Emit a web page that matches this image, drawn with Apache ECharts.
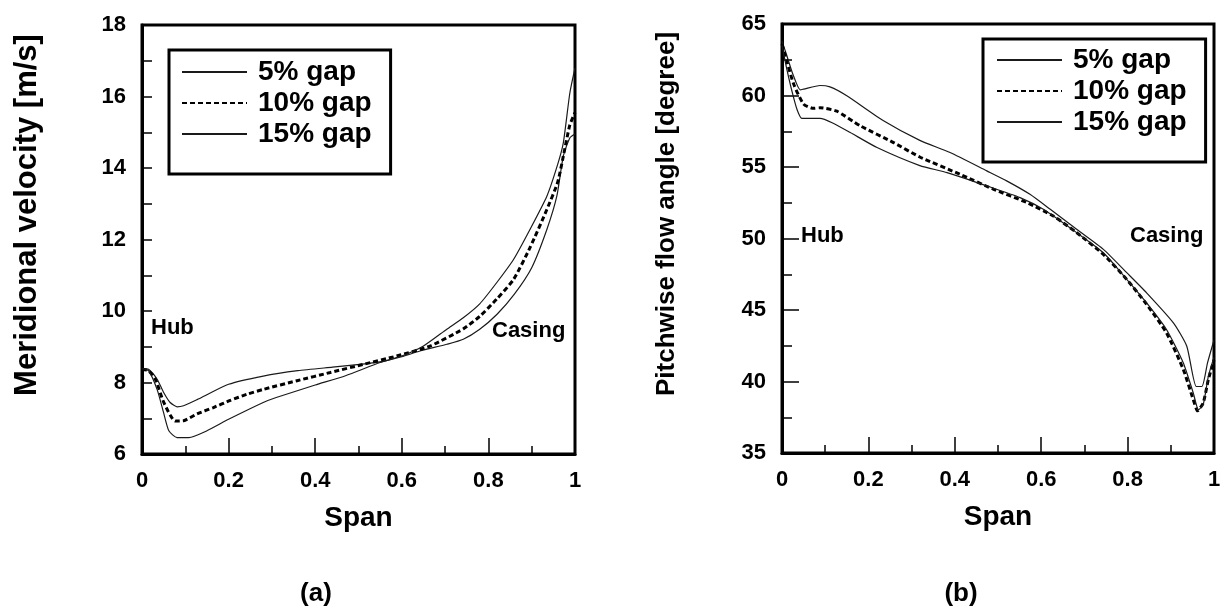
<!DOCTYPE html>
<html><head><meta charset="utf-8">
<script src="https://cdn.jsdelivr.net/npm/echarts@6/dist/echarts.min.js"></script>
<style>html,body{margin:0;padding:0;background:#fff}#c{width:1231px;height:615px}</style>
</head><body><div id="c"></div>
<script>
const FONT = '"Liberation Sans", Arial, Helvetica, sans-serif';
const seriesNames = ['5% gap', '10% gap', '15% gap'];

// (a) Meridional velocity [m/s] vs span
const velSpan5 = [0, 0.015, 0.035, 0.05, 0.065, 0.081, 0.096, 0.127, 0.2, 0.28, 0.36, 0.44, 0.52, 0.56, 0.6, 0.642, 0.704, 0.742, 0.78, 0.82, 0.86, 0.9, 0.935, 0.958, 0.973, 0.988, 1.0];
const vel5     = [8.39, 8.37, 8.09, 7.72, 7.44, 7.32, 7.35, 7.52, 7.95, 8.18, 8.33, 8.43, 8.53, 8.6, 8.72, 8.88, 9.07, 9.21, 9.49, 9.91, 10.47, 11.21, 12.28, 13.21, 14.33, 14.84, 14.95];
const velSpan10 = [0, 0.015, 0.031, 0.05, 0.077, 0.096, 0.127, 0.165, 0.204, 0.242, 0.281, 0.358, 0.435, 0.512, 0.588, 0.665, 0.742, 0.78, 0.819, 0.858, 0.896, 0.935, 0.96, 0.973, 0.988, 1.0];
const vel10     = [8.37, 8.33, 8.09, 7.45, 6.92, 6.93, 7.12, 7.3, 7.5, 7.67, 7.81, 8.05, 8.28, 8.51, 8.74, 9.02, 9.5, 9.85, 10.33, 10.88, 11.77, 12.84, 13.6, 14.33, 15.2, 15.55];
const velSpan15 = [0, 0.015, 0.035, 0.05, 0.062, 0.081, 0.108, 0.15, 0.2, 0.28, 0.31, 0.4, 0.47, 0.55, 0.6, 0.65, 0.704, 0.742, 0.78, 0.819, 0.858, 0.896, 0.935, 0.96, 0.973, 0.988, 1.0];
const vel15     = [8.39, 8.33, 7.8, 7.15, 6.65, 6.46, 6.46, 6.65, 6.97, 7.44, 7.58, 7.93, 8.19, 8.56, 8.74, 9.02, 9.49, 9.81, 10.2, 10.79, 11.44, 12.28, 13.21, 14.1, 14.7, 16.09, 16.8];

// (b) Pitchwise flow angle [degree] vs span
const angSpan5 = [0, 0.01, 0.025, 0.042, 0.05, 0.088, 0.111, 0.15, 0.235, 0.319, 0.389, 0.474, 0.52, 0.574, 0.621, 0.682, 0.744, 0.798, 0.844, 0.906, 0.937, 0.959, 0.972, 0.985, 1.0];
const ang5     = [63.8, 62.9, 61.5, 60.4, 60.45, 60.7, 60.6, 59.98, 58.23, 56.86, 56.01, 54.73, 54.03, 53.09, 52.04, 50.64, 49.24, 47.61, 46.2, 44.1, 42.47, 39.65, 39.65, 41.3, 42.9];
const angSpan10 = [0, 0.01, 0.027, 0.05, 0.073, 0.088, 0.127, 0.181, 0.258, 0.319, 0.412, 0.49, 0.567, 0.628, 0.682, 0.744, 0.798, 0.844, 0.89, 0.929, 0.952, 0.962, 0.975, 0.987, 1.0];
const ang10     = [63.6, 62.5, 60.8, 59.4, 59.1, 59.14, 58.9, 57.88, 56.71, 55.7, 54.49, 53.44, 52.51, 51.57, 50.41, 48.89, 47.14, 45.4, 43.4, 40.84, 38.73, 37.95, 38.5, 40.14, 41.5];
const angSpan15 = [0, 0.01, 0.023, 0.035, 0.046, 0.088, 0.116, 0.158, 0.22, 0.319, 0.382, 0.474, 0.551, 0.605, 0.682, 0.744, 0.798, 0.844, 0.89, 0.929, 0.952, 0.964, 0.975, 0.987, 1.0];
const ang15     = [63.5, 62.0, 60.3, 59.0, 58.4, 58.4, 58.1, 57.41, 56.36, 55.1, 54.61, 53.68, 52.86, 52.04, 50.41, 49.0, 47.14, 45.5, 43.64, 41.3, 39.2, 38.03, 38.38, 40.37, 41.7];

const pairs = (xs, ys) => xs.map((x, i) => [x, ys[i]]);

const solid = { color: '#1a1a1a', width: 1.2, type: 'solid' };
const dashed = { color: '#000', width: 3, type: [5, 3] };
const styles = [solid, dashed, solid];

function mkSeries(idx, datasets) {
  return datasets.map((d, k) => ({
    type: 'line', name: seriesNames[k], xAxisIndex: idx, yAxisIndex: idx,
    data: d, showSymbol: false, symbol: 'none', smooth: 0.2,
    lineStyle: styles[k], itemStyle: { color: '#000' }, z: 3
  }));
}

function xAxisCfg(idx) {
  return {
    type: 'value', gridIndex: idx, min: 0, max: 1, interval: 0.2,
    name: 'Span', nameLocation: 'middle', nameGap: 50,
    nameTextStyle: { fontSize: 28, fontWeight: 'bold', fontFamily: FONT, color: '#000' },
    axisLine: { onZero: false, lineStyle: { color: '#000', width: 3 } },
    axisTick: { inside: true, length: 16, lineStyle: { color: '#000', width: 1.5 } },
    minorTick: { show: true, splitNumber: 2, length: 8, lineStyle: { color: '#000', width: 1.5 } },
    splitLine: { show: false },
    axisLabel: { fontSize: 22, fontWeight: 'bold', fontFamily: FONT, color: '#000', margin: 16 }
  };
}
function yAxisCfg(idx, min, max, interval, majorLen, minorLen) {
  return {
    type: 'value', gridIndex: idx, min: min, max: max, interval: interval,
    axisLine: { onZero: false, lineStyle: { color: '#000', width: 3 } },
    axisTick: { inside: true, length: majorLen, lineStyle: { color: '#000', width: 1.5 } },
    minorTick: { show: true, splitNumber: 2, length: minorLen, lineStyle: { color: '#000', width: 1.5 } },
    splitLine: { show: false },
    axisLabel: { fontSize: 22, fontWeight: 'bold', fontFamily: FONT, color: '#000', margin: 16 }
  };
}
function legendCfg(left, top, padding) {
  return {
    data: seriesNames, left: left, top: top, orient: 'vertical',
    padding: padding, itemGap: 3, itemWidth: 65, itemHeight: 14,
    borderColor: '#000', borderWidth: 3, backgroundColor: '#fff',
    selectedMode: false,
    itemStyle: { opacity: 0, borderWidth: 0 },
    textStyle: { fontSize: 28, fontWeight: 'bold', fontFamily: FONT, color: '#000', lineHeight: 27, padding: [0, 0, 0, 6] }
  };
}
function txt(text, x, y, size, align, rot) {
  return {
    type: 'text', x: x, y: y, rotation: rot || 0, z: 10,
    style: { text: text, fill: '#000', font: 'bold ' + size + 'px ' + FONT, align: align || 'left', verticalAlign: 'middle' }
  };
}

const chart = echarts.init(document.getElementById('c'), null, { renderer: 'canvas' });
chart.setOption({
  backgroundColor: '#fff',
  animation: false,
  grid: [
    { left: 142, top: 25, width: 433, height: 429, show: true, borderColor: '#000', borderWidth: 3 },
    { left: 782, top: 24, width: 432, height: 429, show: true, borderColor: '#000', borderWidth: 3 }
  ],
  xAxis: [xAxisCfg(0), xAxisCfg(1)],
  yAxis: [yAxisCfg(0, 6, 18, 2, 10, 10), yAxisCfg(1, 35, 65, 5, 17, 10)],
  legend: [legendCfg(169, 50, [8, 19, 26, 12]), legendCfg(983, 39, [7, 19, 26, 13])],
  series: [
    ...mkSeries(0, [pairs(velSpan5, vel5), pairs(velSpan10, vel10), pairs(velSpan15, vel15)]),
    ...mkSeries(1, [pairs(angSpan5, ang5), pairs(angSpan10, ang10), pairs(angSpan15, ang15)])
  ],
  graphic: [
    txt('Meridional velocity [m/s]', 27, 215, 31, 'center', Math.PI / 2),
    txt('Pitchwise flow angle [degree]', 667, 214, 26, 'center', Math.PI / 2),
    txt('Hub', 151, 328, 22),
    txt('Casing', 492, 331, 22),
    txt('Hub', 801, 236, 22),
    txt('Casing', 1130, 236, 22),
    txt('(a)', 316, 594, 26, 'center'),
    txt('(b)', 961, 594, 26, 'center')
  ]
});
</script>
</body></html>
